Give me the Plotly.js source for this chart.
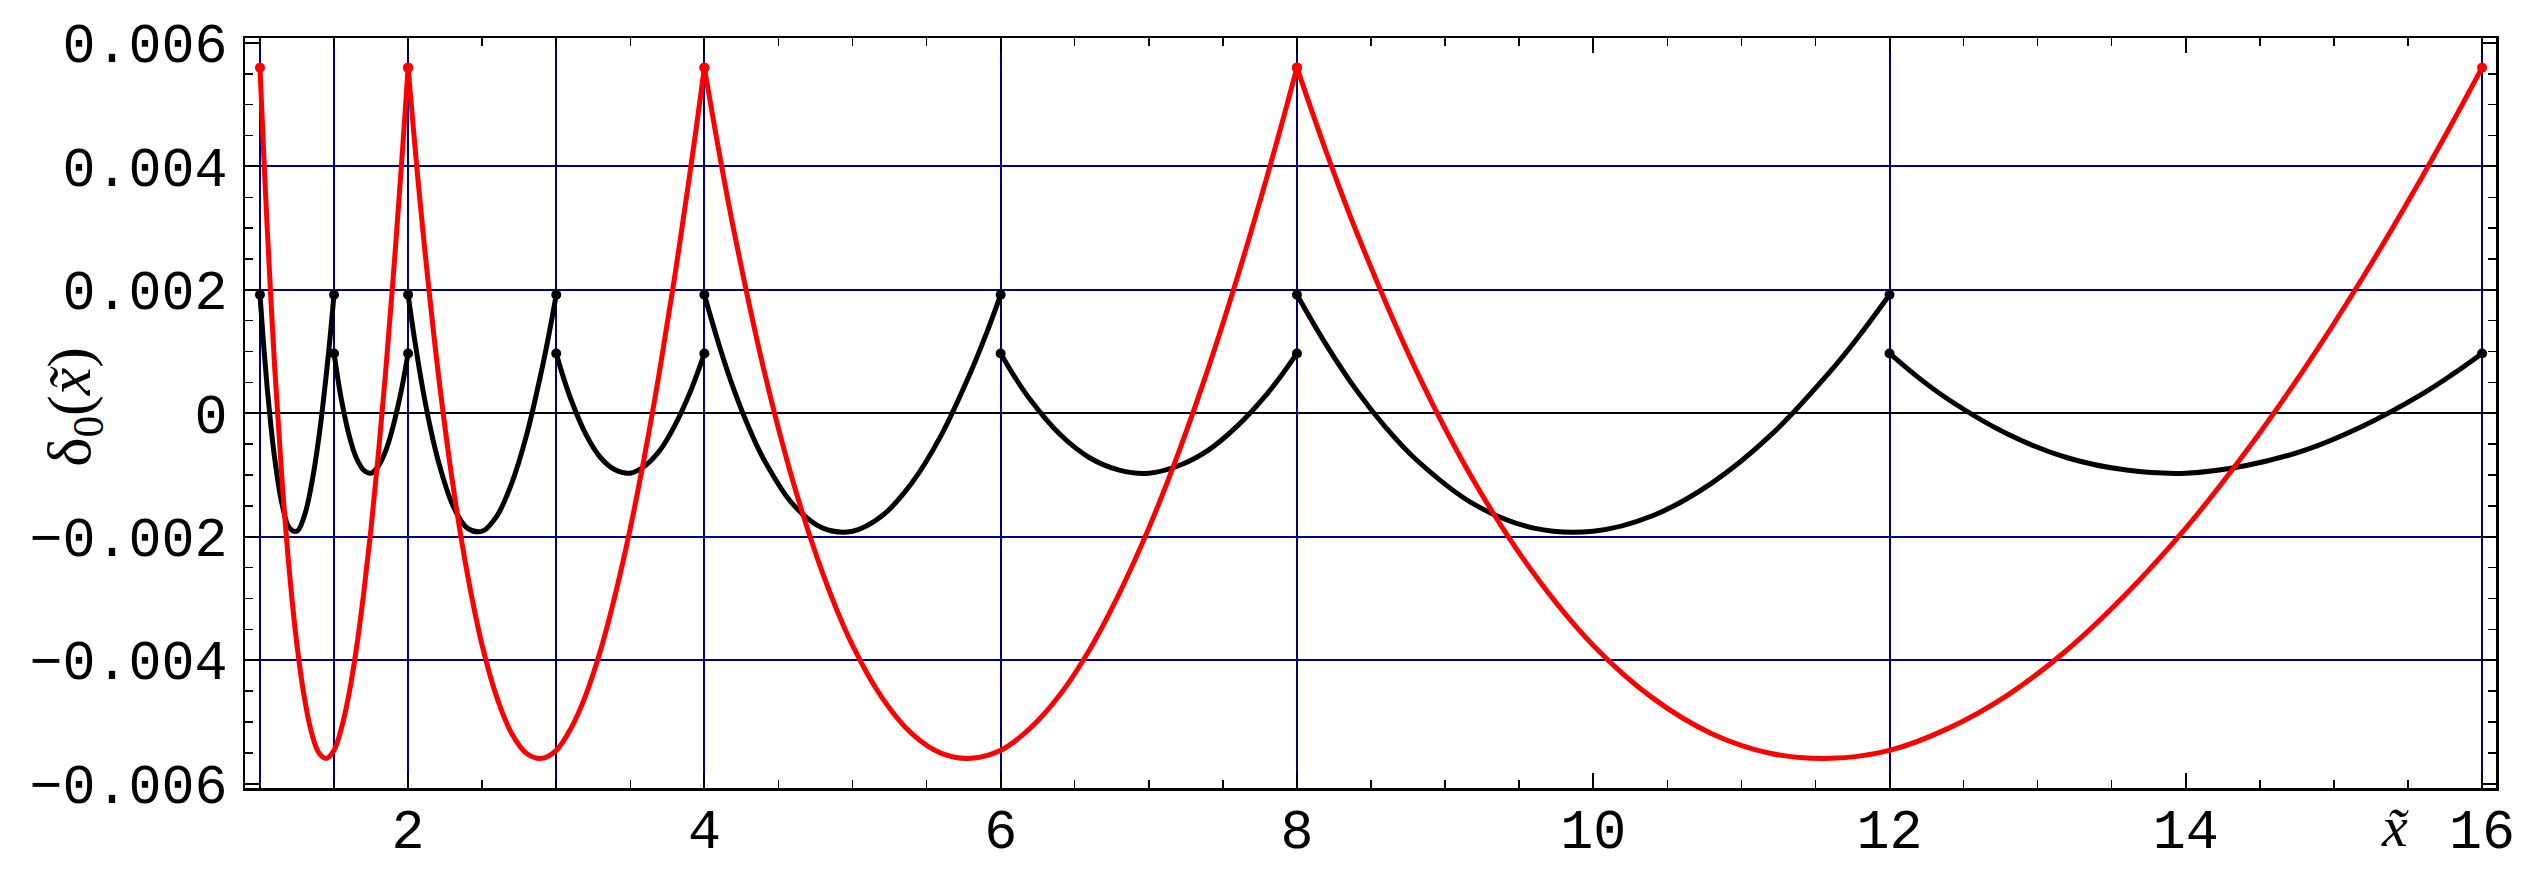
<!DOCTYPE html>
<html>
<head>
<meta charset="utf-8">
<script src="https://cdn.plot.ly/plotly-3.0.1.min.js"></script>
<style>
  html, body { margin: 0; padding: 0; background: #fff; }
  #plotArea { width: 2534px; height: 878px; }
</style>
</head>
<body>
<div id="plotArea"></div>
<script>
// red curve, one arch per octave (same shape each time)
var redX1 = [1, 1.025, 1.05, 1.1, 1.15, 1.2, 1.25, 1.3, 1.35, 1.4, 1.45, 1.5, 1.55, 1.6, 1.65, 1.7, 1.75, 1.8, 1.85, 1.9, 1.95, 1.975, 2];
var redX2 = [2, 2.05, 2.1, 2.2, 2.3, 2.4, 2.5, 2.6, 2.7, 2.8, 2.9, 3, 3.1, 3.2, 3.3, 3.4, 3.5, 3.6, 3.7, 3.8, 3.9, 3.95, 4];
var redX3 = [4, 4.1, 4.2, 4.4, 4.6, 4.8, 5, 5.2, 5.4, 5.6, 5.8, 6, 6.2, 6.4, 6.6, 6.8, 7, 7.2, 7.4, 7.6, 7.8, 7.9, 8];
var redX4 = [8, 8.2, 8.4, 8.8, 9.2, 9.6, 10, 10.4, 10.8, 11.2, 11.6, 12, 12.4, 12.8, 13.2, 13.6, 14, 14.4, 14.8, 15.2, 15.6, 15.8, 16];
var redY = [0.0056, 0.00422, 0.00295, 0.00072, -0.00112, -0.00260, -0.00376, -0.00461, -0.00519, -0.00551, -0.00559, -0.00546,
            -0.00510, -0.00456, -0.00383, -0.00292, -0.00186, -0.00064, 0.00072, 0.00222, 0.00385, 0.00471, 0.0056];

// black curve: big arches on [a, 1.5a], small arches on [1.5a, 2a]
var blackAX1 = [1, 1.025, 1.05, 1.075, 1.1, 1.15, 1.2, 1.25, 1.3, 1.35, 1.4, 1.45, 1.475, 1.5];
var blackAX2 = [2, 2.05, 2.1, 2.15, 2.2, 2.3, 2.4, 2.5, 2.6, 2.7, 2.8, 2.9, 2.95, 3];
var blackAX3 = [4, 4.1, 4.2, 4.3, 4.4, 4.6, 4.8, 5, 5.2, 5.4, 5.6, 5.8, 5.9, 6];
var blackAX4 = [8, 8.2, 8.4, 8.6, 8.8, 9.2, 9.6, 10, 10.4, 10.8, 11.2, 11.6, 11.8, 12];
var blackAY = [0.00192, 0.00110, 0.00038, -0.00023, -0.00074, -0.00148, -0.00186, -0.00191, -0.00166, -0.00113, -0.00035, 0.00068, 0.00127, 0.00192];

var blackBX1 = [1.5, 1.525, 1.55, 1.6, 1.65, 1.7, 1.75, 1.8, 1.85, 1.9, 1.95, 1.975, 2];
var blackBX2 = [3, 3.05, 3.1, 3.2, 3.3, 3.4, 3.5, 3.6, 3.7, 3.8, 3.9, 3.95, 4];
var blackBX3 = [6, 6.1, 6.2, 6.4, 6.6, 6.8, 7, 7.2, 7.4, 7.6, 7.8, 7.9, 8];
var blackBX4 = [12, 12.2, 12.4, 12.8, 13.2, 13.6, 14, 14.4, 14.8, 15.2, 15.6, 15.8, 16];
var blackBY = [0.00097, 0.00057, 0.00022, -0.00034, -0.00072, -0.00092, -0.00097, -0.00085, -0.00060, -0.00020, 0.00032, 0.00063, 0.00097];

// ticks and grid
var xTickVals = [2, 4, 6, 8, 10, 12, 14, 16];
var xTickText = ["2", "4", "6", "8", "10", "12", "14", "16"];
var yTickVals = [-0.006, -0.004, -0.002, 0, 0.002, 0.004, 0.006];
var yTickText = ["\u22120.006", "\u22120.004", "\u22120.002", "0", "0.002", "0.004", "0.006"];
var gridX = [1, 1.5, 2, 3, 4, 6, 8, 12, 16];
var gridY = [-0.004, -0.002, 0.002, 0.004];

var xRange = [0.899, 16.094];
var yRange = [-0.00607, 0.00608];

var data = [];
var redSegs = [redX1, redX2, redX3, redX4];
var blackSegs = [[blackAX1, blackAY], [blackBX1, blackBY], [blackAX2, blackAY], [blackBX2, blackBY],
                 [blackAX3, blackAY], [blackBX3, blackBY], [blackAX4, blackAY], [blackBX4, blackBY]];

blackSegs.forEach(function (s) {
    data.push({x: s[0], y: s[1], mode: "lines", line: {color: "#000000", width: 5, shape: "spline", smoothing: 1}, hoverinfo: "skip"});
});
redSegs.forEach(function (xs) {
    data.push({x: xs, y: redY, mode: "lines", line: {color: "#ff0000", width: 5, shape: "spline", smoothing: 1}, hoverinfo: "skip"});
});

// end points of every segment get a dot
var dotBX = [], dotBY = [], dotRX = [], dotRY = [];
blackSegs.forEach(function (s) {
    dotBX.push(s[0][0], s[0][s[0].length - 1]);
    dotBY.push(s[1][0], s[1][s[1].length - 1]);
});
redSegs.forEach(function (xs) {
    dotRX.push(xs[0], xs[xs.length - 1]);
    dotRY.push(redY[0], redY[redY.length - 1]);
});
data.push({x: dotBX, y: dotBY, xaxis: "x2", yaxis: "y2", mode: "markers", marker: {color: "#000000", size: 10}, hoverinfo: "skip"});
data.push({x: dotRX, y: dotRY, xaxis: "x2", yaxis: "y2", mode: "markers", marker: {color: "#ff0000", size: 10}, hoverinfo: "skip"});

var tickFont = {family: "Liberation Mono, Courier New, monospace", size: 55, color: "#000000"};

var layout = {
    width: 2534,
    height: 878,
    margin: {l: 245, r: 38, t: 38, b: 90},
    paper_bgcolor: "#ffffff",
    plot_bgcolor: "#ffffff",
    showlegend: false,
    xaxis: {
        range: xRange,
        tickmode: "array", tickvals: xTickVals, ticktext: xTickText,
        ticks: "inside", ticklen: 15, tickwidth: 2, tickcolor: "#000000",
        minor: {tickmode: "linear", tick0: 0, dtick: 0.5, ticks: "inside", ticklen: 8, tickwidth: 1.5, tickcolor: "#000000", showgrid: false},
        showline: true, linecolor: "#000000", linewidth: 2.5, mirror: "allticks",
        showgrid: false, zeroline: false,
        tickfont: tickFont, ticklabelstandoff: -9
    },
    yaxis: {
        range: yRange,
        tickmode: "array", tickvals: yTickVals, ticktext: yTickText,
        ticks: "inside", ticklen: 15, tickwidth: 2, tickcolor: "#000000",
        minor: {tickmode: "linear", tick0: 0, dtick: 0.0005, ticks: "inside", ticklen: 8, tickwidth: 1.5, tickcolor: "#000000", showgrid: false},
        showline: true, linecolor: "#000000", linewidth: 2.5, mirror: "allticks",
        showgrid: false,
        zeroline: true, zerolinecolor: "#000000", zerolinewidth: 2,
        tickfont: tickFont, ticklabelstandoff: 4
    },
    xaxis2: {
        range: xRange, overlaying: "x", anchor: "y",
        tickmode: "array", tickvals: gridX,
        showgrid: true, gridcolor: "#000080", gridwidth: 2,
        ticks: "", showticklabels: false, showline: false, zeroline: false
    },
    yaxis2: {
        range: yRange, overlaying: "y", anchor: "x",
        tickmode: "array", tickvals: gridY,
        showgrid: true, gridcolor: "#000080", gridwidth: 2,
        ticks: "", showticklabels: false, showline: false, zeroline: false
    },
    annotations: [
        {
            text: "\u03b4<sub>0</sub>(<i>x\u0303</i>)",
            xref: "paper", yref: "paper", x: -0.0765, y: 0.508,
            xanchor: "center", yanchor: "middle", textangle: -90, showarrow: false,
            font: {family: "Liberation Serif, Times New Roman, serif", size: 62, color: "#000000"}
        },
        {
            text: "<i>x\u0303</i>",
            xref: "x", yref: "paper", x: 15.41, y: 0,
            xanchor: "center", yanchor: "top", yshift: -4, showarrow: false,
            font: {family: "Liberation Serif, Times New Roman, serif", size: 58, color: "#000000"}
        }
    ]
};

Plotly.newPlot("plotArea", data, layout, {displayModeBar: false, staticPlot: true});
</script>
</body>
</html>
